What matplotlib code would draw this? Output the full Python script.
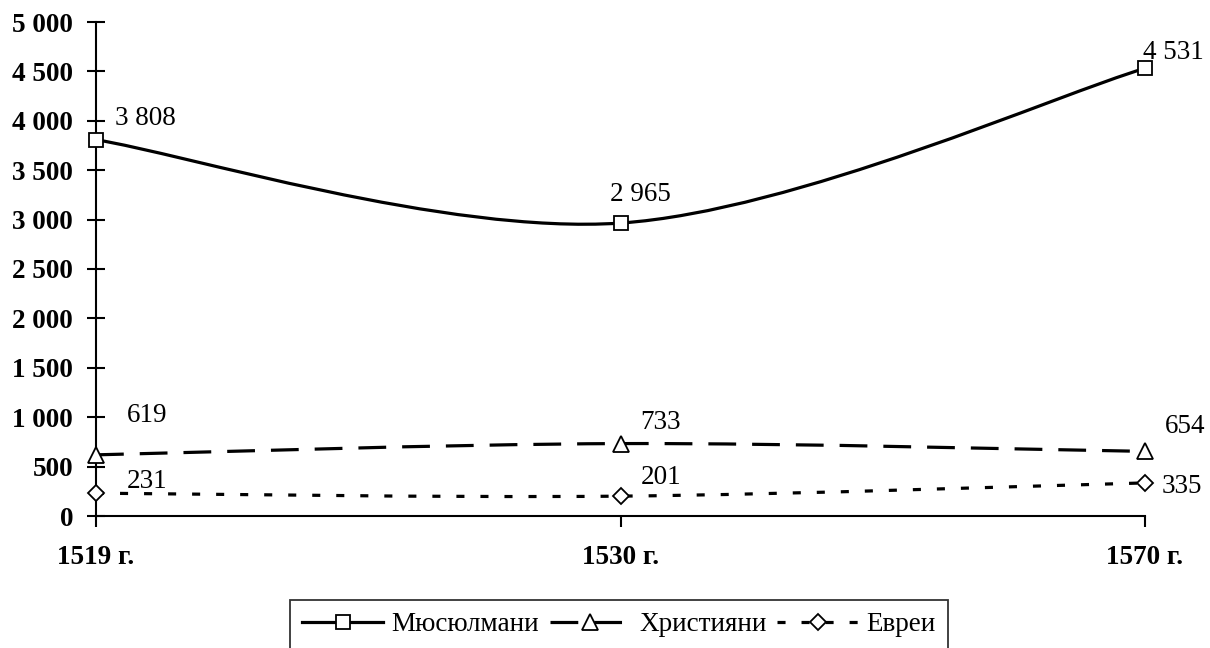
import matplotlib.pyplot as plt
from matplotlib.path import Path
from matplotlib.patches import PathPatch
from matplotlib.lines import Line2D
from matplotlib.ticker import FuncFormatter

plt.rcParams['font.family'] = ['Liberation Serif', 'DejaVu Serif']
plt.rcParams['lines.scale_dashes'] = False

# data
years = ['1519 г.', '1530 г.', '1570 г.']
muslims = [3808, 2965, 4531]
christians = [619, 733, 654]
jews = [231, 201, 335]
names = ['Мюсюлмани', 'Християни', 'Евреи']


def smooth_path(xs, ys):
    # Excel-like smoothed line: cubic Bezier through the points
    n = len(xs)
    verts = [(xs[0], ys[0])]
    codes = [Path.MOVETO]
    for i in range(n - 1):
        xp, yp = (xs[i - 1], ys[i - 1]) if i > 0 else (xs[i], ys[i])
        xn, yn = (xs[i + 2], ys[i + 2]) if i + 2 < n else (xs[i + 1], ys[i + 1])
        c1 = (xs[i] + (xs[i + 1] - xp) / 6, ys[i] + (ys[i + 1] - yp) / 6)
        c2 = (xs[i + 1] - (xn - xs[i]) / 6, ys[i + 1] - (yn - ys[i]) / 6)
        verts += [c1, c2, (xs[i + 1], ys[i + 1])]
        codes += [Path.CURVE4] * 3
    return Path(verts, codes)


FS = 19.5
fig = plt.figure(figsize=(12.1, 6.48), dpi=100)
ax = fig.add_axes([96 / 1210, 132 / 648, 1049 / 1210, 494 / 648])

x = list(range(len(years)))
styles = [
    (muslims, 's', 'solid', 10),
    (christians, '^', (0, (20, 11.5)), 12),
    (jews, 'D', (0, (5.8, 11.5)), 8.5),
]
handles = []
for (vals, mk, ls, ms), name in zip(styles, names):
    ax.add_patch(PathPatch(smooth_path(x, vals), fill=False, lw=2.3,
                           ls=ls, edgecolor='black', zorder=2))
    ax.plot(x, vals, ls='none', marker=mk, ms=ms, mfc='white', mec='black',
            mew=1.3, zorder=3, clip_on=False)
    handles.append(Line2D([], [], color='black', lw=2.3, ls=ls, marker=mk,
                          ms=ms, mfc='white', mec='black', mew=1.3))

fmt = lambda v: f'{v:,}'.replace(',', ' ')

# data labels (offsets in pixels)
offs = {
    (0, 0): (19, 21), (0, 1): (-10, 29), (0, 2): (-2, 16),
    (1, 0): (31, 39), (1, 1): (20, 21), (1, 2): (20, 25),
    (2, 0): (31, 12), (2, 1): (20, 19), (2, 2): (17, -4),
}
for si, (vals, *_rest) in enumerate(styles):
    for i, v in enumerate(vals):
        dx, dy = offs[(si, i)]
        ax.annotate(fmt(v), (i, v), xytext=(dx, dy), textcoords='offset pixels',
                    fontsize=FS, ha='left', va='center')

ax.set_xlim(0, 2)
ax.set_ylim(0, 5000)
ax.set_yticks(range(0, 5001, 500))
ax.yaxis.set_major_formatter(FuncFormatter(lambda v, p: fmt(int(v))))
ax.set_xticks(x)
ax.set_xticklabels(years)
for lab in ax.get_xticklabels() + ax.get_yticklabels():
    lab.set_fontweight('bold')
    lab.set_fontsize(FS)

ax.spines['top'].set_visible(False)
ax.spines['right'].set_visible(False)
ax.spines['left'].set_linewidth(1.5)
ax.spines['bottom'].set_linewidth(1.5)
ax.tick_params(axis='y', direction='inout', length=13, width=1.5, pad=10)
ax.tick_params(axis='x', direction='out', length=8, width=1.5, pad=13)

leg = fig.legend(handles, names, loc='upper center',
                 bbox_to_anchor=(619 / 1210, 1 - 600 / 648),
                 ncol=3, frameon=True, fancybox=False, edgecolor='black',
                 fontsize=FS, handlelength=3.0, columnspacing=0.4,
                 handletextpad=0.3, borderpad=0.45, borderaxespad=0)
leg.get_frame().set_linewidth(1.3)

fig.savefig('out.png', dpi=100)
